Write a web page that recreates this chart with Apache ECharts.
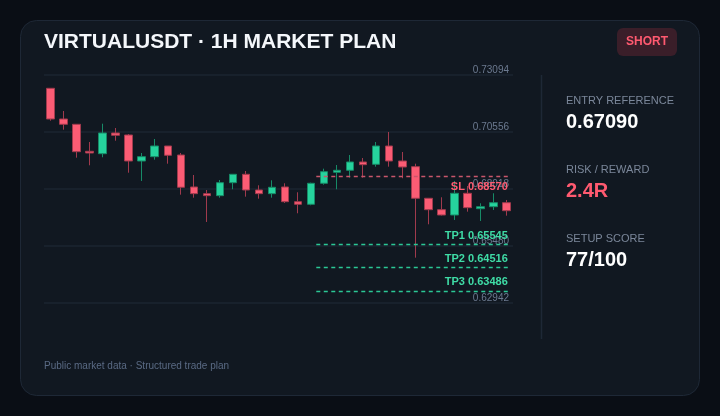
<!DOCTYPE html>
<html>
<head>
<meta charset="utf-8">
<script src="https://cdn.jsdelivr.net/npm/echarts@6/dist/echarts.min.js"></script>
<style>
html,body{margin:0;padding:0;background:#0a0e15;}
#chart{width:720px;height:416px;}
</style>
</head>
<body>
<div id="chart"></div>
<script>
// ---- data ----
var categories = [];
for (var i = 1; i <= 36; i++) categories.push('C' + i);
var opens  = [0.72502,0.71135,0.70899,0.69697,0.69590,0.70512,0.70423,0.69265,0.69457,0.69933,0.69532,0.68108,0.67810,0.67721,0.68299,0.68673,0.67974,0.67810,0.68108,0.67453,0.67337,0.68272,0.68762,0.68851,0.69221,0.69118,0.69933,0.69265,0.69012,0.67605,0.67097,0.66861,0.67827,0.67141,0.67230,0.67408];
var closes = [0.71135,0.70899,0.69679,0.69621,0.70512,0.70409,0.69265,0.69457,0.69933,0.69519,0.68094,0.67810,0.67721,0.68299,0.68673,0.67974,0.67810,0.68094,0.67453,0.67337,0.68272,0.68789,0.68851,0.69221,0.69101,0.69933,0.69265,0.68998,0.67605,0.67097,0.66861,0.67827,0.67186,0.67230,0.67408,0.67052];
var lows   = [0.71059,0.70659,0.69412,0.69074,0.69430,0.70169,0.68744,0.68375,0.69323,0.69145,0.67765,0.67631,0.66550,0.67631,0.68006,0.67676,0.67587,0.67631,0.67396,0.66937,0.67293,0.68210,0.68006,0.68522,0.68522,0.69012,0.69012,0.68496,0.64960,0.66447,0.66839,0.66639,0.67008,0.66594,0.67084,0.66830];
var highs  = [0.72510,0.71491,0.70913,0.70111,0.70926,0.70734,0.70467,0.69621,0.70245,0.69933,0.69621,0.68642,0.67974,0.68419,0.68687,0.68820,0.68183,0.68406,0.68272,0.67872,0.68299,0.68923,0.69087,0.69532,0.69399,0.70111,0.70556,0.69666,0.69145,0.67618,0.67649,0.68375,0.68152,0.67382,0.67827,0.67529];
var yTicks = [0.62942,0.65480,0.68018,0.70556,0.73094];
var levelNames  = ['SL','TP1','TP2','TP3'];
var levelValues = [0.68570,0.65545,0.64516,0.63486];
var levelSpan = [20.9, 35.75]; // in candle units
var statLabels = ['ENTRY REFERENCE','RISK / REWARD','SETUP SCORE'];
var statValues = ['0.67090','2.4R','77/100'];
var titleText = 'VIRTUALUSDT · 1H MARKET PLAN';
var sideText = 'SHORT';
var footerText = 'Public market data · Structured trade plan';

// ---- chart ----
var FONT = '"Liberation Sans", Arial, sans-serif';
var RED = '#fb5c74', RED_D = '#a03a4d', GREEN = '#26d39d', GREEN_D = '#178a67';
var candleData = opens.map(function (o, i) { return [o, closes[i], lows[i], highs[i]]; });
var yMin = yTicks[0], yMax = yTicks[yTicks.length - 1];
var yInterval = yTicks[1] - yTicks[0];

var markData = levelNames.map(function (n, i) {
  var isSL = n === 'SL';
  var col = isSL ? '#ff5c72' : '#3fdca6';
  return [
    { coord: [levelSpan[0], levelValues[i]],
      lineStyle: { color: isSL ? '#c9566b' : '#2bc795', type: [4, 3.5], width: 1.3 },
      label: { show: true, formatter: n + ' ' + levelValues[i].toFixed(5),
        position: isSL ? 'insideEndBottom' : 'insideEndTop',
        distance: isSL ? [2, 5] : [2, 3],
        color: col, fontFamily: FONT, fontWeight: 'bold', fontSize: 11 } },
    { coord: [levelSpan[1], levelValues[i]] }
  ];
});

var graphics = [
  { type: 'rect', shape: { x: 20.5, y: 20.5, width: 679, height: 375, r: 16 },
    style: { fill: '#111821', stroke: '#1e2836', lineWidth: 1 }, z: -10 },
  { type: 'text', x: 44, y: 42, style: { text: titleText, fill: '#f4f7fb', font: 'bold 21px ' + FONT, textVerticalAlign: 'middle' } },
  { type: 'rect', shape: { x: 617, y: 28, width: 60, height: 28, r: 6 }, style: { fill: '#3a1e29' } },
  { type: 'text', x: 647, y: 42, style: { text: sideText, fill: '#ff5a70', font: 'bold 12px ' + FONT, textAlign: 'center', textVerticalAlign: 'middle' } },
  { type: 'line', shape: { x1: 541.5, y1: 75, x2: 541.5, y2: 339 }, style: { stroke: '#1e2836', lineWidth: 1.5 } },
  { type: 'text', x: 44, y: 366.5, style: { text: footerText, fill: '#5a6a84', font: '10px ' + FONT, textVerticalAlign: 'middle' } }
];
var statY = [101, 170, 239];
statLabels.forEach(function (l, i) {
  graphics.push({ type: 'text', x: 566, y: statY[i], style: { text: l, fill: '#7b879a', font: '11px ' + FONT, textVerticalAlign: 'middle' } });
  graphics.push({ type: 'text', x: 566, y: statY[i] + 21, style: { text: statValues[i], fill: i === 1 ? '#ff5a70' : '#ffffff', font: 'bold 20px ' + FONT, textVerticalAlign: 'middle' } });
});

var chart = echarts.init(document.getElementById('chart'), null, { renderer: 'canvas' });
chart.setOption({
  backgroundColor: '#0a0e15',
  animation: false,
  grid: { left: 44, right: 207, top: 75, bottom: 113 },
  xAxis: [
    { type: 'category', data: categories, boundaryGap: true, show: false },
    { type: 'value', min: 0, max: categories.length, show: false }
  ],
  yAxis: {
    type: 'value', position: 'right', min: yMin, max: yMax, interval: yInterval,
    axisLine: { show: false }, axisTick: { show: false },
    splitLine: { show: true, lineStyle: { color: '#1b2430', width: 1.5 } },
    axisLabel: { inside: true, margin: 4, verticalAlign: 'bottom', color: '#6c7a90', fontSize: 10, fontFamily: FONT,
      formatter: function (v) { return v.toFixed(5); } }
  },
  graphic: graphics,
  series: [
    { type: 'candlestick', data: candleData, barWidth: 8, xAxisIndex: 0,
      itemStyle: { color: GREEN, color0: RED, borderColor: GREEN_D, borderColor0: RED_D, borderWidth: 1 } },
    { type: 'line', xAxisIndex: 1, data: [], silent: true,
      markLine: { silent: true, symbol: ['none', 'none'], data: markData } }
  ]
});
</script>
</body>
</html>
